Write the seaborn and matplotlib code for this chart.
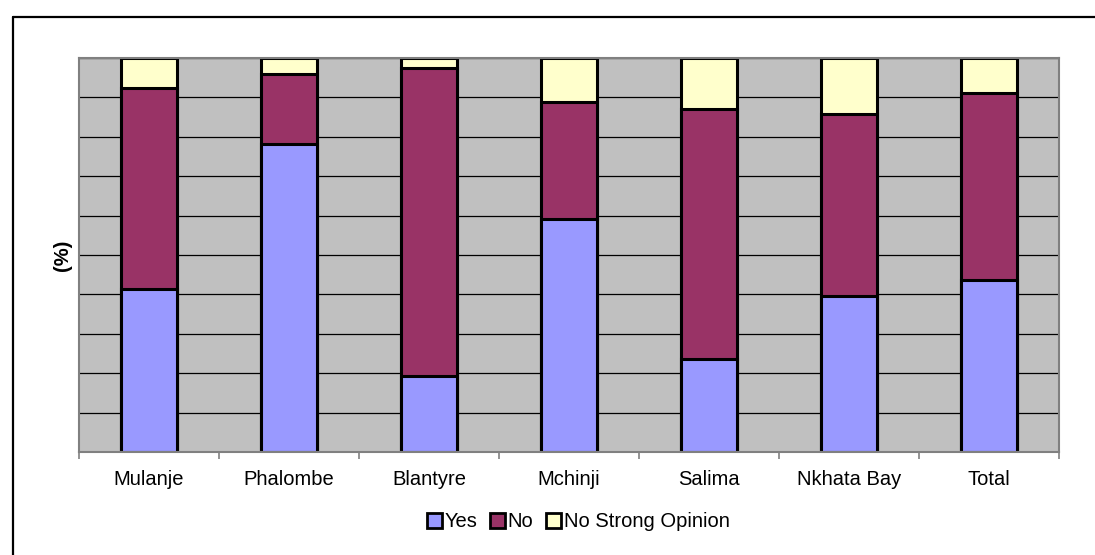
import numpy as np
import pandas as pd
import matplotlib
matplotlib.use('Agg')
import matplotlib.pyplot as plt
from matplotlib.patches import Patch
from matplotlib.lines import Line2D
import seaborn as sns

# Data (percent of respondents per district)
districts = ['Mulanje', 'Phalombe', 'Blantyre', 'Mchinji', 'Salima', 'Nkhata Bay', 'Total']
yes = [41.3, 78.1, 19.3, 59.1, 23.7, 39.6, 43.7]
no = [51.2, 17.9, 78.1, 29.8, 63.4, 46.2, 47.3]
no_opinion = [7.5, 4.0, 2.6, 11.1, 12.9, 14.2, 9.0]

series_names = ['Yes', 'No', 'No Strong Opinion']
series_colors = ['#9999FF', '#993366', '#FFFFCC']

sns.set_style('white')
plt.rcParams['font.family'] = ['Liberation Sans', 'DejaVu Sans']
plt.rcParams['text.color'] = 'black'
plt.rcParams['axes.labelcolor'] = 'black'
plt.rcParams['xtick.color'] = 'black'

df = pd.DataFrame({'district': districts, 'Yes': yes, 'No': no,
                   'No Strong Opinion': no_opinion})
# cumulative tops for the stacked look
df['cum_yes'] = df['Yes']
df['cum_no'] = df['Yes'] + df['No']
df['cum_all'] = df['cum_no'] + df['No Strong Opinion']

fig = plt.figure(figsize=(10.95, 5.55), dpi=100)
ax = fig.add_axes([79 / 1095, 103 / 555, 980 / 1095, 394 / 555])
ax.set_facecolor('#C0C0C0')

for col, color in zip(['cum_all', 'cum_no', 'cum_yes'], series_colors[::-1]):
    sns.barplot(data=df, x='district', y=col, color=color, width=0.4,
                edgecolor='black', linewidth=2.2, saturation=1, ax=ax)

ax.set_ylim(0, 100)
ax.set_xlim(-0.5, len(districts) - 0.5)
ax.set_yticks(np.arange(0, 101, 10))
ax.set_yticklabels([])
ax.tick_params(axis='y', length=0)
ax.set_axisbelow(True)
ax.yaxis.grid(True, color='black', linewidth=0.9)
ax.xaxis.grid(False)

# category labels at centres, tick marks at boundaries
ax.set_xticks(range(len(districts)))
ax.set_xticklabels(districts, fontsize=14.5, color='black')
ax.tick_params(axis='x', which='major', bottom=True, length=0, pad=13)
ax.set_xticks(np.arange(-0.5, len(districts), 1), minor=True)
ax.tick_params(axis='x', which='minor', bottom=True, length=5, width=1.2, color='#808080')
ax.set_xlabel('')

for side in ['left', 'right', 'top', 'bottom']:
    ax.spines[side].set_visible(True)
    ax.spines[side].set_color('#808080')
    ax.spines[side].set_linewidth(1.5)

ax.set_ylabel('(%)', fontsize=14.5, fontweight='bold', va='center', color='black')
ax.yaxis.set_label_coords(-0.017, 0.5)

handles = [Patch(facecolor=c, edgecolor='black', linewidth=2, label=n)
           for n, c in zip(series_names, series_colors)]
fig.legend(handles=handles, loc='center', bbox_to_anchor=(0.528, 0.06), ncol=3,
           frameon=False, fontsize=14.5, handlelength=0.75, handleheight=0.75,
           handletextpad=0.15, columnspacing=0.6)

# outer chart frame
fig.add_artist(Line2D([13 / 1095, 1.0], [1 - 17 / 555, 1 - 17 / 555],
                      transform=fig.transFigure, color='black', linewidth=1.6))
fig.add_artist(Line2D([13 / 1095, 13 / 1095], [0.0, 1 - 17 / 555],
                      transform=fig.transFigure, color='black', linewidth=1.6))

fig.savefig('out.png', dpi=100)
